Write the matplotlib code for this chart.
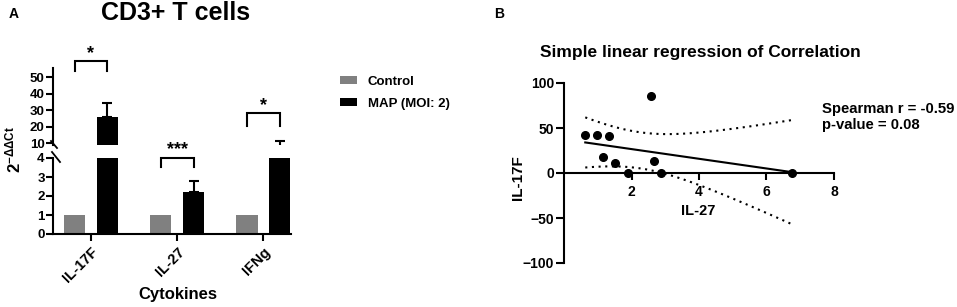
import numpy as np
import matplotlib
matplotlib.use("Agg")
import matplotlib.pyplot as plt
from matplotlib.patches import Patch

plt.rcParams['font.family'] = ['Liberation Sans', 'DejaVu Sans']
plt.rcParams['font.weight'] = 'bold'
plt.rcParams['mathtext.fontset'] = 'custom'
plt.rcParams['mathtext.rm'] = 'Liberation Sans:bold'
plt.rcParams['mathtext.bf'] = 'Liberation Sans:bold'
plt.rcParams['mathtext.it'] = 'Liberation Sans:bold'

# ---------------- data ----------------
cytokines = ["IL-17F", "IL-27", "IFNg"]
control_vals = [1.0, 1.0, 1.0]
map_vals = [25.5, 2.2, 6.5]
map_err = [9.0, 0.6, 4.7]
sig_labels = ["*", "***", "*"]

il27 = [0.63, 0.99, 1.34, 1.16, 1.50, 1.90, 2.58, 2.67, 2.86, 6.75]
il17f = [42.6, 42.6, 40.7, 17.4, 10.7, 0.0, 85.9, 13.0, 0.0, 0.0]
spearman_text = "Spearman r = -0.59\np-value = 0.08"

lower_ticks = [0, 1, 2, 3, 4]
upper_ticks = [10, 20, 30, 40, 50]
xb_ticks = [2, 4, 6, 8]
yb_ticks = [-100, -50, 0, 50, 100]

GRAY = '#808080'
W, H = 957, 307
fig = plt.figure(figsize=(W / 100, H / 100), dpi=100)

def fx(px):
    return px / W

def fy(py):
    return (H - py) / H

# ---------------- panel A ----------------
xl, xr = 53, 291
ax_lo = fig.add_axes([fx(xl), fy(234), fx(xr - xl), (234 - 158) / H])
ax_hi = fig.add_axes([fx(xl), fy(145), fx(xr - xl), (145 - 68) / H])

x = np.arange(len(cytokines))
off, bw = 0.19, 0.245
for ax in (ax_lo, ax_hi):
    ax.patch.set_visible(False)
    ax.bar(x - off, control_vals, width=bw, color=GRAY, edgecolor='none')
    ax.bar(x + off, map_vals, width=bw, color='black', edgecolor='none')
    ax.errorbar(x + off, map_vals, yerr=[np.zeros(3), map_err], fmt='none',
                ecolor='black', elinewidth=1.5, capsize=3.3, capthick=1.5)
    ax.set_xlim(-0.44, 2.32)
    for s in ('top', 'right'):
        ax.spines[s].set_visible(False)
    ax.spines['left'].set_linewidth(1.5)
    ax.tick_params(axis='y', width=1.5, length=5, labelsize=9.5, pad=1)

ax_lo.set_ylim(0, 4)
ax_lo.set_yticks(lower_ticks)
ax_lo.spines['bottom'].set_linewidth(1.5)
ax_lo.set_xticks(x)
ax_lo.set_xticklabels(cytokines, rotation=45, ha='right', rotation_mode='anchor', fontsize=10.5)
ax_lo.tick_params(axis='x', width=1.5, length=5, pad=3)

ax_hi.set_ylim(8.8, 55.5)
ax_hi.set_yticks(upper_ticks)
ax_hi.spines['bottom'].set_visible(False)
ax_hi.set_xticks([])

for lab in ax_lo.get_yticklabels() + ax_hi.get_yticklabels() + ax_lo.get_xticklabels():
    lab.set_fontweight('bold')

# break marks
fig.add_artist(plt.Line2D([fx(51), fx(57)], [fy(141), fy(148)], color='black', lw=1.3))
fig.add_artist(plt.Line2D([fx(52), fx(60)], [fy(152), fy(162)], color='black', lw=1.3))

# significance brackets
def bracket(ax, i, ytop, yleg, label, ystar):
    x0, x1 = i - off, i + off
    ax.plot([x0, x0, x1, x1], [yleg, ytop, ytop, yleg], color='black', lw=1.5,
            clip_on=False, solid_joinstyle='miter')
    ax.text(i, ystar, label, ha='center', va='center', fontsize=13, fontweight='bold',
            clip_on=False, zorder=10)

bracket(ax_hi, 0, 59.7, 53.6, sig_labels[0], 64.5)
bracket(ax_lo, 1, 4.0, 3.53, sig_labels[1], 4.45)
bracket(ax_hi, 2, 28.2, 20.3, sig_labels[2], 32.8)

fig.text(fx(176), fy(13), "CD3+ T cells", ha='center', va='center', fontsize=18, fontweight='bold')
fig.text(fx(14), fy(14), "A", ha='center', va='center', fontsize=10, fontweight='bold')
fig.text(fx(178), fy(295), "Cytokines", ha='center', va='center', fontsize=12, fontweight='bold')
fig.text(fx(13), fy(149), r'$\mathbf{2^{-ΔΔCt}}$', ha='center', va='center', rotation=90, fontsize=12)

handles = [Patch(facecolor=GRAY, edgecolor='none'), Patch(facecolor='black', edgecolor='none')]
fig.legend(handles, ["Control", "MAP (MOI: 2)"], loc='upper left',
           bbox_to_anchor=(fx(328), fy(64)), frameon=False, fontsize=9.5,
           handlelength=1.3, handleheight=0.6, handletextpad=0.8, labelspacing=0.75)

# ---------------- panel B ----------------
axb = fig.add_axes([fx(564), fy(263), fx(834 - 564), (263 - 83) / H])
xa = np.array(il27)
ya = np.array(il17f)
n = len(xa)
slope, intercept = np.polyfit(xa, ya, 1)
xs = np.linspace(xa.min(), xa.max(), 100)
yfit = intercept + slope * xs
resid = ya - (intercept + slope * xa)
s = np.sqrt(np.sum(resid ** 2) / (n - 2))
sxx = np.sum((xa - xa.mean()) ** 2)
tcrit = 2.306  # t(0.975, df=8)
half = tcrit * s * np.sqrt(1 / n + (xs - xa.mean()) ** 2 / sxx)

axb.plot(xs, yfit, color='black', lw=1.5)
axb.plot(xs, yfit + half, color='black', lw=1.5, linestyle=(0, (1, 2.2)))
axb.plot(xs, yfit - half, color='black', lw=1.5, linestyle=(0, (1, 2.2)))
axb.plot(xa, ya, 'o', color='black', markersize=5.5, clip_on=False, zorder=5)

axb.set_xlim(0, 8)
axb.set_ylim(-100, 100)
axb.spines['top'].set_visible(False)
axb.spines['right'].set_visible(False)
axb.spines['bottom'].set_position(('data', 0))
axb.spines['bottom'].set_linewidth(1.5)
axb.spines['left'].set_linewidth(1.5)
axb.set_xticks(xb_ticks)
axb.set_yticks(yb_ticks)
axb.tick_params(axis='y', width=1.5, length=5.5, labelsize=10, pad=1.5)
axb.tick_params(axis='x', width=1.5, length=5, labelsize=10, pad=4)
for lab in axb.get_xticklabels() + axb.get_yticklabels():
    lab.set_fontweight('bold')

fig.text(fx(698), fy(211), "IL-27", ha='center', va='center', fontsize=10.5, fontweight='bold')
fig.text(fx(518), fy(178), "IL-17F", ha='center', va='center', rotation=90, fontsize=11, fontweight='bold')
fig.text(fx(700), fy(53), "Simple linear regression of Correlation", ha='center', va='center',
         fontsize=12.5, fontweight='bold')
fig.text(fx(499), fy(14), "B", ha='center', va='center', fontsize=10, fontweight='bold')
fig.text(fx(822), fy(117), spearman_text, ha='left', va='center', fontsize=10.7, fontweight='bold',
         linespacing=1.15)

fig.savefig("out.png", dpi=100)
